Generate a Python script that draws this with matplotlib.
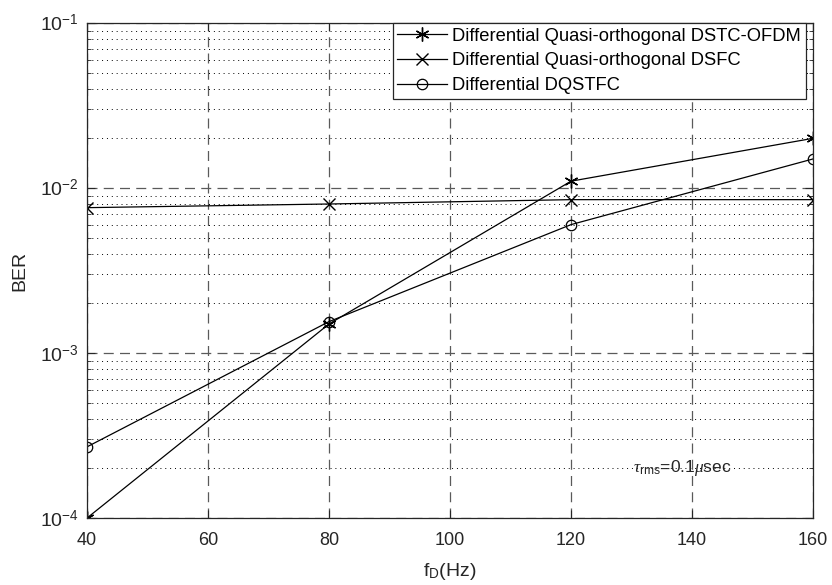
import math
import matplotlib
matplotlib.use('Agg')
import matplotlib.pyplot as plt
from matplotlib.ticker import LogLocator, NullFormatter, FuncFormatter

plt.rcParams['font.family'] = ['Liberation Sans', 'DejaVu Sans']
plt.rcParams['mathtext.fontset'] = 'custom'
plt.rcParams['mathtext.rm'] = 'Liberation Sans'
plt.rcParams['mathtext.it'] = 'Liberation Serif:italic'

# Doppler frequency (Hz)
fd = [40, 80, 120, 160]

# BER for each scheme
ber_dstc_ofdm = [1.0e-4, 1.5e-3, 1.1e-2, 2.0e-2]
ber_dsfc = [7.6e-3, 8.0e-3, 8.5e-3, 8.5e-3]
ber_dqstfc = [2.7e-4, 1.55e-3, 6.0e-3, 1.5e-2]

labels = ['Differential Quasi-orthogonal DSTC-OFDM',
          'Differential Quasi-orthogonal DSFC',
          'Differential DQSTFC']


def pow10_label(v, pos):
    return r'10$^{\mathregular{%d}}$' % round(math.log10(v))


fig = plt.figure(figsize=(8.32, 5.85), dpi=100)
ax = fig.add_axes([0.1046, 0.1145, 0.8726, 0.8462])

# six-armed asterisk like the usual '*' line marker
asterisk = (6, 2, 0)
ax.semilogy(fd, ber_dstc_ofdm, '-', marker=asterisk, color='black', lw=0.9, ms=10,
            mew=1.0, label=labels[0])
ax.semilogy(fd, ber_dsfc, '-x', color='black', lw=0.9, ms=9, mew=1.0, label=labels[1])
ax.semilogy(fd, ber_dqstfc, '-o', color='black', lw=0.9, ms=7.5, mew=0.9,
            mfc='none', label=labels[2])

ax.set_xlim(40, 160)
ax.set_ylim(1e-4, 1e-1)
ax.set_xticks([40, 60, 80, 100, 120, 140, 160])
ax.yaxis.set_major_locator(LogLocator(base=10, numticks=10))
ax.yaxis.set_minor_locator(LogLocator(base=10, subs=range(2, 10), numticks=10))
ax.yaxis.set_minor_formatter(NullFormatter())
ax.yaxis.set_major_formatter(FuncFormatter(pow10_label))

# major grid dashed, minor grid dotted
ax.grid(True, which='major', linestyle=(0, (8, 5)), color='#5a5a5a', lw=0.9)
ax.grid(True, which='minor', axis='y', linestyle=(0, (1, 4)), color='black', lw=0.7)

ax.tick_params(which='both', direction='in', top=True, right=True,
               labelsize=13, colors='#262626')
ax.tick_params(axis='y', labelsize=14, pad=6)
ax.tick_params(axis='x', pad=10)
ax.tick_params(which='major', length=6)
ax.tick_params(which='minor', length=3)
for s in ax.spines.values():
    s.set_color('#262626')
    s.set_linewidth(0.9)

ax.set_xlabel(r'f$_{\mathregular{D}}$(Hz)', fontsize=14, color='#262626', labelpad=9)
ax.set_ylabel('BER', fontsize=14, color='#262626', labelpad=8)

ax.text(130.3, 2.0e-4, r'$\tau_{\mathregular{rms}}$=0.1$\mu$sec', fontsize=12.5,
        color='#262626', va='center')

leg = ax.legend(loc='upper right', fontsize=13.2, fancybox=False, framealpha=1,
                edgecolor='#262626', borderpad=0.25, labelspacing=0.42,
                handlelength=2.7, handletextpad=0.3, borderaxespad=0.0,
                bbox_to_anchor=(0.99, 1.0))
leg.get_frame().set_linewidth(0.9)

fig.savefig('out.png', dpi=100)
